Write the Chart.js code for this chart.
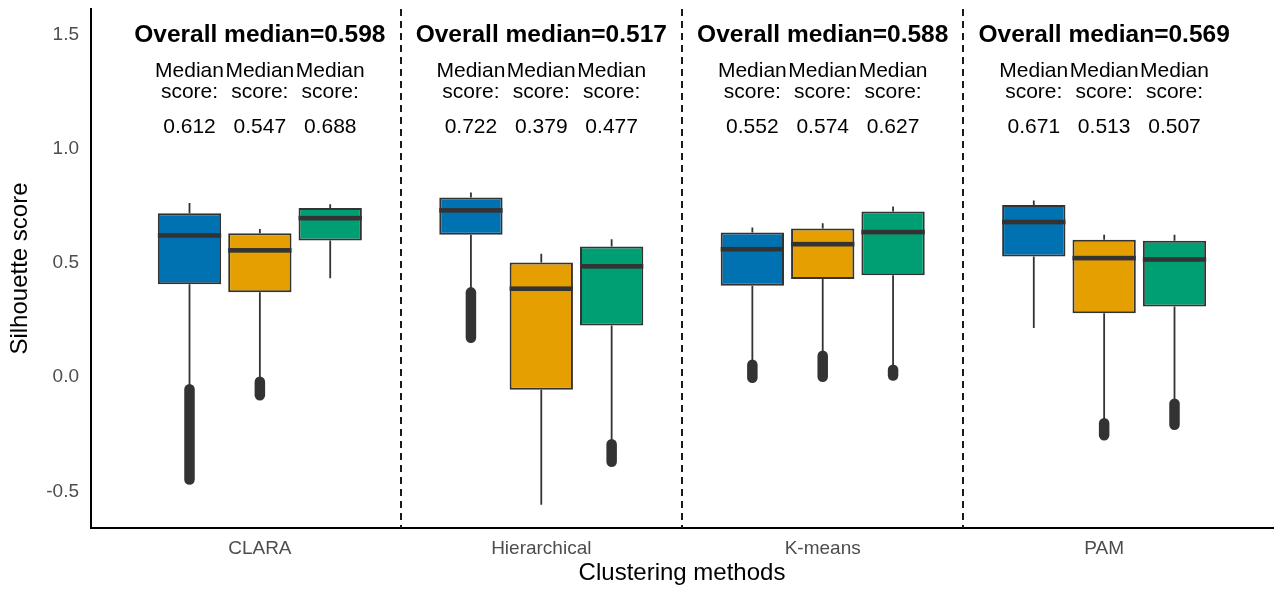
<!DOCTYPE html>
<html>
<head>
<meta charset="utf-8">
<style>
  html, body { margin: 0; padding: 0; background: #ffffff; }
  #wrap { width: 1275px; height: 590px; }
</style>
<script src="https://cdn.jsdelivr.net/npm/chart.js@4.4.1/dist/chart.umd.min.js"></script>
</head>
<body>
<div id="wrap"><canvas id="chart" width="1275" height="590"></canvas></div>
<script>
// Clustering methods on the x axis
const methods = ['CLARA', 'Hierarchical', 'K-means', 'PAM'];
const overallMedian = [0.598, 0.517, 0.588, 0.569];
const seriesNames = ['Set 1', 'Set 2', 'Set 3'];
const seriesColors = ['#0072B2', '#E69F00', '#009E73'];
const yTicks = [-0.5, 0.0, 0.5, 1.0, 1.5];

// Box statistics: one row per series, one column per method
const whiskerHigh = [
  [0.754, 0.800, 0.647, 0.765],
  [0.641, 0.532, 0.666, 0.615],
  [0.749, 0.596, 0.739, 0.615]
];
const q3 = [
  [0.710, 0.778, 0.625, 0.746],
  [0.622, 0.494, 0.643, 0.593],
  [0.732, 0.564, 0.717, 0.589]
];
const median = [
  [0.612, 0.722, 0.552, 0.671],
  [0.547, 0.379, 0.574, 0.513],
  [0.688, 0.477, 0.627, 0.507]
];
const q1 = [
  [0.399, 0.615, 0.392, 0.520],
  [0.364, -0.063, 0.421, 0.272],
  [0.590, 0.218, 0.438, 0.301]
];
const whiskerLow = [
  [-0.050, 0.380, 0.050, 0.207],
  [-0.020, -0.567, 0.095, -0.200],
  [0.425, -0.285, 0.030, -0.115]
];
// Outlying observations: [highest, lowest] of each run of outliers
const outlierTop = [
  [-0.061, 0.363, 0.046, null],
  [-0.028, null, 0.085, -0.210],
  [null, -0.302, 0.024, -0.125]
];
const outlierBottom = [
  [-0.457, 0.164, -0.011, null],
  [-0.088, null, -0.007, -0.263],
  [null, -0.379, -0.001, -0.217]
];

const INK = '#333333';
const FONT = '"Liberation Sans", Arial, sans-serif';

const boxPlugin = {
  id: 'boxDetails',
  beforeDatasetsDraw(chart) {
    const { ctx, chartArea, scales } = chart;
    const xs = scales.x, ys = scales.y;
    ctx.save();
    // dashed separators between methods
    ctx.strokeStyle = '#1a1a1a';
    ctx.lineWidth = 2;
    ctx.setLineDash([7, 5]);
    for (let i = 1; i < methods.length; i++) {
      const px = Math.round(xs.getPixelForValue(i + 0.5));
      ctx.beginPath();
      ctx.moveTo(px, chartArea.top);
      ctx.lineTo(px, chartArea.bottom);
      ctx.stroke();
    }
    ctx.setLineDash([]);
    // whiskers and outliers
    chart.data.datasets.forEach((ds, s) => {
      const meta = chart.getDatasetMeta(s);
      meta.data.forEach((bar, i) => {
        const cx = bar.x;
        ctx.strokeStyle = INK;
        ctx.lineWidth = 1.8;
        ctx.lineCap = 'butt';
        ctx.beginPath();
        ctx.moveTo(cx, ys.getPixelForValue(q3[s][i]));
        ctx.lineTo(cx, ys.getPixelForValue(whiskerHigh[s][i]));
        ctx.moveTo(cx, ys.getPixelForValue(q1[s][i]));
        ctx.lineTo(cx, ys.getPixelForValue(whiskerLow[s][i]));
        ctx.stroke();
        if (outlierTop[s][i] !== null) {
          ctx.lineWidth = 10.5;
          ctx.lineCap = 'round';
          ctx.beginPath();
          ctx.moveTo(cx, ys.getPixelForValue(outlierTop[s][i]));
          ctx.lineTo(cx, ys.getPixelForValue(outlierBottom[s][i]) + 0.01);
          ctx.stroke();
        }
      });
    });
    ctx.restore();
  },
  afterDatasetsDraw(chart) {
    const { ctx, chartArea, scales } = chart;
    const xs = scales.x, ys = scales.y;
    ctx.save();
    // median bars
    chart.data.datasets.forEach((ds, s) => {
      const meta = chart.getDatasetMeta(s);
      meta.data.forEach((bar, i) => {
        const py = ys.getPixelForValue(median[s][i]);
        ctx.fillStyle = INK;
        ctx.fillRect(bar.x - bar.width / 2, py - 2.3, bar.width, 4.6);
      });
    });
    // text annotations above each method
    const top = chartArea.top;
    ctx.fillStyle = '#000000';
    ctx.textAlign = 'center';
    ctx.textBaseline = 'alphabetic';
    ctx.font = 'bold 24.5px ' + FONT;
    methods.forEach((m, i) => {
      ctx.fillText('Overall median=' + overallMedian[i].toFixed(3), xs.getPixelForValue(i + 1), top + 32.7);
    });
    ctx.font = '21px ' + FONT;
    chart.data.datasets.forEach((ds, s) => {
      const meta = chart.getDatasetMeta(s);
      meta.data.forEach((bar, i) => {
        ctx.fillText('Median', bar.x, top + 67.5);
        ctx.fillText('score:', bar.x, top + 89);
        ctx.fillText(median[s][i].toFixed(3), bar.x, top + 124.2);
      });
    });
    ctx.restore();
  }
};

const datasets = seriesNames.map((name, s) => ({
  label: name,
  data: methods.map((m, i) => ({ x: i + 1, y: [q1[s][i], q3[s][i]] })),
  backgroundColor: seriesColors[s],
  borderColor: INK,
  borderWidth: 2,
  borderSkipped: false,
  categoryPercentage: 0.75,
  barPercentage: 0.9
}));

new Chart(document.getElementById('chart'), {
  type: 'bar',
  data: { datasets },
  plugins: [boxPlugin],
  options: {
    responsive: false,
    animation: false,
    layout: { padding: { left: 0, right: 2, top: 9, bottom: 0 } },
    plugins: { legend: { display: false }, tooltip: { enabled: false } },
    scales: {
      x: {
        type: 'linear',
        offset: false,
        min: 0.4,
        max: 4.6,
        grid: { display: false, drawTicks: false, offset: false },
        border: { display: true, color: '#000000', width: 2 },
        afterBuildTicks(scale) { scale.ticks = methods.map((m, i) => ({ value: i + 1 })); },
        afterFit(scale) {
          scale.height = 62;
          scale.paddingLeft = 0;
          scale.paddingRight = 0;
        },
        ticks: {
          padding: 9,
          color: '#4d4d4d',
          font: { family: FONT, size: 19 },
          callback: (v) => methods[Math.round(v) - 1] || ''
        },
        title: {
          display: true,
          text: 'Clustering methods',
          color: '#000000',
          padding: { top: 0, bottom: 2 },
          font: { family: FONT, size: 24 }
        }
      },
      y: {
        min: -0.669,
        max: 1.604,
        grid: { display: false, drawTicks: false },
        border: { display: true, color: '#000000', width: 2 },
        afterBuildTicks(scale) { scale.ticks = yTicks.map(v => ({ value: v })); },
        afterFit(scale) {
          scale.width = 91;
          scale.paddingTop = 0;
          scale.paddingBottom = 0;
        },
        ticks: {
          padding: 12,
          labelOffset: 2,
          color: '#4d4d4d',
          font: { family: FONT, size: 19 },
          callback: (v) => Number(v).toFixed(1)
        },
        title: {
          display: true,
          text: 'Silhouette score',
          color: '#000000',
          padding: { top: 6, bottom: 0 },
          font: { family: FONT, size: 24 }
        }
      }
    }
  }
});
</script>
</body>
</html>
